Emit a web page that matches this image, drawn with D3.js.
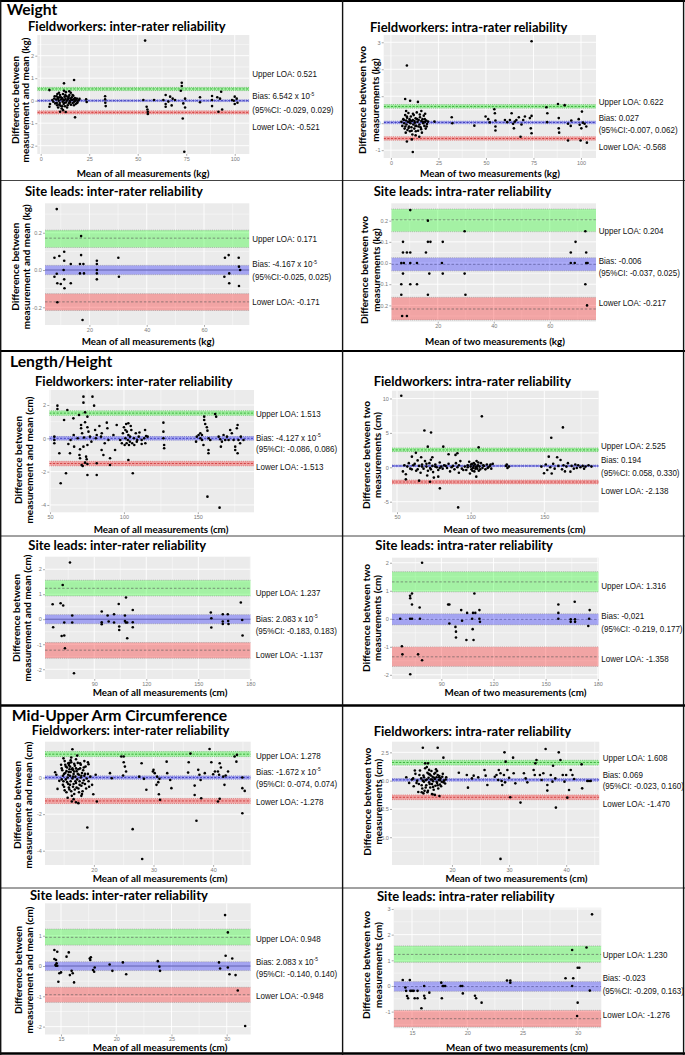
<!DOCTYPE html>
<html><head><meta charset="utf-8">
<script src="https://cdn.jsdelivr.net/npm/d3@7"></script>
<style>
html,body{margin:0;padding:0;background:#fff;}
svg{display:block;}
</style></head>
<body>
<svg id="chart" width="685" height="1055"></svg>
<script>
// ---------------- DATA ----------------
const sectionTitles = ["Weight", "Length/Height", "Mid-Upper Arm Circumference"];

const panelTitles = [
  "Fieldworkers: inter-rater reliability", "Fieldworkers: intra-rater reliability",
  "Site leads: inter-rater reliability", "Site leads: intra-rater reliability",
  "Fieldworkers: inter-rater reliability", "Fieldworkers: intra-rater reliability",
  "Site leads: inter-rater reliability", "Site leads: intra-rater reliability",
  "Fieldworkers: inter-rater reliability", "Fieldworkers: intra-rater reliability",
  "Site leads: inter-rater reliability", "Site leads: intra-rater reliability"
];

const xAxisLabels = [
  "Mean of all measurements (kg)", "Mean of two measurements (kg)",
  "Mean of all measurements (kg)", "Mean of two measurements (kg)",
  "Mean of all measurements (cm)", "Mean of two measurements (cm)",
  "Mean of all measurements (cm)", "Mean of two measurements (cm)",
  "Mean of all measurements (cm)", "Mean of two measurements (cm)",
  "Mean of all measurements (cm)", "Mean of two measurements (cm)"
];

const yAxisLabels = [
  ["Difference between", "measurement and mean (kg)"], ["Difference between two", "measurements (kg)"],
  ["Difference between", "measurement and mean (kg)"], ["Difference between two", "measurements (kg)"],
  ["Difference between", "measurement and mean (cm)"], ["Difference between two", "measurements (cm)"],
  ["Difference between", "measurement and mean (cm)"], ["Difference between two", "measurements (cm)"],
  ["Difference between", "measurement and mean (cm)"], ["Difference between two", "measurements (cm)"],
  ["Difference between", "measurement and mean (cm)"], ["Difference between two", "measurements (cm)"]
];

const xTickValues = [
  [0, 25, 50, 75, 100], [0, 25, 50, 75, 100],
  [20, 40, 60], [20, 40, 60],
  [50, 100, 150], [50, 100, 150],
  [90, 120, 150, 180], [90, 120, 150, 180],
  [20, 30, 40], [20, 30, 40],
  [15, 20, 25, 30], [15, 20, 25, 30]
];
const yTickValues = [
  [-2, -1, 0, 1, 2], [-1, 0, 1, 2, 3],
  [-0.2, 0, 0.2], [-0.2, -0.1, 0, 0.1, 0.2],
  [-4, -2, 0, 2], [-5, 0, 5, 10],
  [-2, -1, 0, 1, 2], [-2, -1, 0, 1, 2],
  [-4, -2, 0], [-5, -2.5, 0, 2.5],
  [-2, -1, 0, 1], [-1, 0, 1, 2, 3]
];
const yTickLabels = [
  ["-2", "-1", "0", "1", "2"], ["-1", "0", "1", "2", "3"],
  ["-0.2", "0.0", "0.2"], ["-0.2", "-0.1", "0.0", "0.1", "0.2"],
  ["-4", "-2", "0", "2"], ["-5", "0", "5", "10"],
  ["-2", "-1", "0", "1", "2"], ["-2", "-1", "0", "1", "2"],
  ["-4", "-2", "0"], ["-5.0", "-2.5", "0.0", "2.5"],
  ["-2", "-1", "0", "1"], ["-1", "0", "1", "2", "3"]
];

const upperLOA = [0.521, 0.622, 0.171, 0.204, 1.513, 2.525, 1.237, 1.316, 1.278, 1.608, 0.948, 1.230];
const biasValues = [0.00006542, 0.027, -0.00004167, -0.006, -0.00004127, 0.194, 0.00002083, -0.021, -0.00001672, 0.069, 0.00002083, -0.023];
const lowerLOA = [-0.521, -0.568, -0.171, -0.217, -1.513, -2.138, -1.237, -1.358, -1.278, -1.470, -0.948, -1.276];

const upperCI = [[0.45, 0.59], [0.56, 0.69], [0.121, 0.214], [0.148, 0.255], [1.38, 1.65], [2.28, 2.80],
                 [0.93, 1.56], [0.96, 1.68], [1.15, 1.42], [1.38, 1.80], [0.69, 1.22], [0.92, 1.56]];
const biasCI = [[-0.04, 0.04], [-0.02, 0.075], [-0.025, 0.025], [-0.037, 0.025], [-0.11, 0.11], [0.058, 0.33],
                [-0.183, 0.183], [-0.219, 0.177], [-0.09, 0.09], [-0.05, 0.18], [-0.15, 0.14], [-0.209, 0.17]];
const lowerCI = [[-0.59, -0.45], [-0.63, -0.50], [-0.217, -0.127], [-0.269, -0.162], [-1.65, -1.38], [-2.42, -1.86],
                 [-1.56, -0.93], [-1.70, -1.00], [-1.42, -1.15], [-1.68, -1.26], [-1.20, -0.70], [-1.60, -0.95]];

const upperText = ["Upper LOA: 0.521", "Upper LOA: 0.622", "Upper LOA: 0.171", "Upper LOA: 0.204",
  "Upper LOA: 1.513", "Upper LOA: 2.525", "Upper LOA: 1.237", "Upper LOA: 1.316",
  "Upper LOA: 1.278", "Upper LOA: 1.608", "Upper LOA: 0.948", "Upper LOA: 1.230"];
const biasText = ["Bias: 6.542 x 10", "Bias: 0.027", "Bias: -4.167 x 10", "Bias: -0.006",
  "Bias: -4.127 x 10", "Bias: 0.194", "Bias: 2.083 x 10", "Bias: -0,021",
  "Bias: -1.672 x 10", "Bias: 0.069", "Bias: 2.083 x 10", "Bias: -0.023"];
const biasExponent = ["-5", "", "-5", "", "-5", "", "-5", "", "-5", "", "-5", ""];
const ciText = ["(95%CI: -0.029, 0.029)", "(95%CI:-0.007, 0.062)", "(95%CI:-0.025, 0.025)", "(95%CI: -0.037, 0.025)",
  "(95%CI: -0.086, 0.086)", "(95%CI: 0.058, 0.330)", "(95%CI: -0.183, 0.183)", "(95%CI: -0.219, 0.177)",
  "(95%CI: 0.-074, 0.074)", "(95%CI: -0.023, 0.160)", "(95%CI: -0.140, 0.140)", "(95%CI: -0.209, 0.163)"];
const lowerText = ["Lower LOA: -0.521", "Lower LOA: -0.568", "Lower LOA: -0.171", "Lower LOA: -0.217",
  "Lower LOA: -1.513", "Lower LOA: -2.138", "Lower LOA: -1.137", "Lower LOA: -1.358",
  "Lower LOA: -1.278", "Lower LOA: -1.470", "Lower LOA: -0.948", "Lower LOA: -1.276"];

// points: [mean, difference]
const ptsWeightFwInter = [[53.8,2.67],[17.2,0.92],[12,0.77],[72.7,0.8],[72.7,0.65],[72.2,0.44],[4.5,0.47],[12,0.44],[8.6,0.3],[17.7,-0.74],[10,-0.49],[12.9,-0.5],[4.5,-0.27],[4.8,-0.15],[23.4,0.06],[23.7,-0.06],[33.2,0.2],[33.2,0.06],[33.3,-0.09],[33.5,-0.24],[52.9,0.03],[54.6,-0.27],[55,-0.39],[55.2,-0.49],[55.2,-0.59],[58.4,0.03],[63.2,0.03],[64.4,0.25],[64.4,-0.15],[64.4,-0.27],[65.8,-0.04],[66.7,0.18],[68,0.09],[67.5,-0.21],[69.2,0.03],[73.2,-0.79],[74,-2.27],[73.5,-0.12],[74.4,-0.3],[74.4,0.09],[82.1,0.15],[82.1,-0.07],[88.3,0.21],[88.3,0.03],[88.3,-0.24],[91,0.15],[91.6,-0.49],[92.4,0.09],[93,0.4],[93.5,-0.39],[98.6,0.03],[100,0.18],[100,-0.15],[101,0.09],[101.4,-0.09],[99.5,0],
  [6,0.03],[6.5,-0.05],[7,0.1],[7.5,-0.12],[8,0.05],[8.2,0.2],[8.5,-0.2],[8.8,0.12],[9,-0.3],[9.3,0],[9.5,0.15],[9.8,-0.1],[10,0.25],[10.2,-0.22],[10.5,0.05],[10.8,-0.35],[11,0.12],[11.3,-0.05],[11.5,0.3],[11.8,-0.15],[12,0.02],[12.3,0.18],[12.5,-0.25],[12.8,0.08],[13,-0.08],[13.3,0.2],[13.6,-0.3],[14,0.05],[14.2,0.12],[14.5,-0.12],[14.8,0.25],[15,-0.02],[15.3,0.1],[15.6,-0.18],[16,0.15],[16.2,0.03],[16.5,-0.1],[16.8,0.22],[17,0.06],[17.3,-0.05],[17.6,0.12],[18,-0.15],[18.3,0.04],[18.6,0.1],[19,-0.06],[19.5,0.02],[20,0.08],[11.5,-0.42],[13,0.38],[15.5,0.35],
  [7.2,0.2],[8.3,-0.1],[9.1,0.08],[9.6,-0.18],[10.4,0.15],[11.1,-0.25],[11.7,0.05],[12.2,-0.1],[12.7,0.25],[13.4,0],[13.9,-0.2],[14.4,0.18],[15.1,-0.08],[15.8,0.05],[16.4,0.25],[17.1,-0.2],[17.8,0],[18.8,-0.1],[9.4,0.35],[14.7,0.42]];

const ptsWeightFwIntra = [[74,3.04],[8.4,2.14],[7.5,0.9],[10.1,0.83],[14.2,0.79],[8.4,-0.68],[11.5,-1.07],[11,-0.6],[14.9,-0.5],[22.9,0.06],[32,0.22],[32.3,0],[43.9,-0.09],[49.8,0.25],[51.2,0.15],[52,0.03],[54.4,0.52],[54.7,0.37],[55,0.1],[55,-0.12],[55,-0.27],[60,0.12],[61.2,0.04],[62.6,0.12],[63.5,0.37],[64.3,-0.02],[64.7,-0.19],[65.2,0.06],[66,0.12],[67.3,0.22],[68.2,-0.5],[68.7,-0.05],[69.6,0.12],[70.5,0.25],[73.1,0.19],[73.6,-0.19],[74,-0.37],[74,0.27],[81.8,0.59],[82.3,0.37],[82.2,0.04],[87.9,0.71],[88.3,0.19],[88.3,-0.19],[88.5,-0.35],[91.4,0.67],[93.2,-0.02],[93.2,-0.64],[94.9,0.1],[94.6,-0.1],[98.8,0.15],[99.3,-0.06],[99.8,-0.64],[100.2,-0.19],[100.5,0.43],[101,0.02],[102.8,-0.12],[103.1,-0.72],[101.9,-0.02],
  [5.5,0.05],[6,-0.1],[6.5,0.15],[7,0],[7.2,-0.2],[7.5,0.3],[7.8,-0.35],[8,0.1],[8.2,-0.05],[8.5,0.2],[8.7,-0.25],[9,0.05],[9.2,0.38],[9.5,-0.12],[9.8,0.15],[10,-0.3],[10.3,0],[10.5,0.25],[10.8,-0.15],[11,0.08],[11.3,-0.42],[11.5,0.12],[11.8,-0.05],[12,0.3],[12.3,-0.2],[12.6,0.02],[13,0.18],[13.3,-0.1],[13.6,0.4],[14,0.05],[14.3,-0.28],[14.6,0.12],[15,-0.05],[15.3,0.22],[15.6,-0.15],[16,0.08],[16.3,-0.35],[16.6,0.15],[17,0],[17.3,0.28],[17.6,-0.1],[18,0.05],[18.3,-0.2],[18.6,0.1],[19,-0.03],[19.5,0.06],[16,0.45],[13,-0.45],[8,0.45],[18,0.35],
  [6.8,0.12],[7.6,-0.12],[8.4,0.25],[9.3,-0.18],[10.1,0.1],[10.9,-0.28],[11.6,0.35],[12.4,0.08],[13.1,-0.3],[13.8,0.15],[14.5,-0.12],[15.2,0.32],[15.9,-0.22],[16.8,0.05],[17.8,0.15],[18.8,-0.12],[9.6,0.05],[12.9,-0.1]];

const ptsWeightSlInter = [[8.6,0.327],[7.8,0.066],[9.5,0.075],[11.2,0.098],[11.2,0.05],[7.8,-0.036],[8.6,-0.02],[8.8,-0.071],[10,-0.075],[11,0],[11.2,-0.05],[11.3,-0.098],[8.8,-0.173],[13.5,0.032],[13.5,-0.071],[17.1,0.08],[17.1,0.182],[16.7,0.032],[17.9,0.032],[16.7,-0.018],[18.1,-0.018],[17.6,-0.268],[22.6,0.05],[22.6,0.032],[22.6,0],[22.6,-0.018],[22.6,-0.05],[30.1,0.066],[30.3,-0.036],[67.1,-0.036],[67.3,0.066],[68.6,0.08],[68.8,-0.018],[68.8,-0.071],[72.1,0.066],[72.2,0.018],[72.6,0],[72.2,-0.086]];

const ptsWeightSlIntra = [[10.2,0.25],[16.5,0.2],[29.6,0.15],[7.6,0.1],[16.5,0.1],[17.4,0.1],[21.8,0.1],[7.6,0.05],[9,0.05],[10.2,0.05],[15.8,0.05],[7,0],[7.9,0],[10.2,0],[12.6,0],[21.5,0],[7.6,-0.05],[17,-0.05],[21.8,-0.05],[29.6,-0.05],[7,-0.1],[10.2,-0.1],[12.6,-0.1],[7,-0.15],[16.5,-0.15],[29.9,-0.15],[7.3,-0.25],[9,-0.25],[69.2,0.1],[67.5,0.05],[73,0.05],[72.7,0.15],[67.5,0],[68.9,0],[73,0],[73.5,0],[72.7,-0.1],[73.3,-0.2]];

const ptsLengthFwInter = [[55,1.96],[55,1.76],[61.7,1.7],[59.5,1.1],[65.8,1.2],[69.6,1.4],[52.9,0.1],[52.9,-0.1],[52.9,-0.3],[56.3,-0.9],[63.5,-0.9],[57.2,-2.7],[60.8,-2.1],[72.6,2.5],[78.7,2.5],[72.6,2.14],[79.8,1.96],[73.7,1.56],[73.7,0.96],[75.3,1.3],[71,0.8],[71,0.6],[75.3,0.66],[76,0.4],[71.7,0.3],[68.7,0],[62.4,-0.34],[63.9,-0.1],[66.3,-0.5],[70.3,-0.66],[72.6,-0.5],[75.3,-0.4],[69.9,-1],[70.3,-1.2],[71.4,-1.6],[72.1,-1.66],[74.4,-1.1],[74.8,-1.26],[75.3,-1.54],[73.7,-1.46],[75.3,-2.2],[81.6,-2.2],[81.6,-1.5],[90.6,-1.6],[80.5,0.5],[81,0],[81.6,0.2],[83.4,0.74],[84.5,0.1],[84.9,-0.7],[86.1,-1],[88.4,0.94],[88.8,0.6],[89.5,-0.1],[90.6,-1.2],[92.9,0.2],[94,-0.7],[95.1,0.8],[77,0.1],[78,-0.2],[66,0.2],[73,0.05],[85,0.3],[87,-0.3],
  [100,0.66],[101.5,0.86],[103,0.9],[104.6,0.74],[101,0.5],[102,0.4],[103,0.2],[104.1,0.1],[101,0],[102.6,-0.1],[104,-0.2],[105.6,-0.3],[101.8,-0.3],[103.4,-0.4],[100.5,-0.4],[106.8,0],[108,0.3],[109,-0.1],[97.5,-0.1],[98.6,-0.3],[99.3,0.3],[106,-2.1],[103,-1.3],[108.7,-0.2],[110,0.1],[112,-0.1],[113.7,0],[115,0.14],[112,-0.34],[114.5,-0.3],[114.3,0.5],[116,0.1],[105,0.5],[107,-0.4],[110.5,0.35],
  [126.7,0.94],[126.7,0.4],[126.7,0],[127.2,-0.4],[127.2,-0.6],[154.3,1.3],[154.3,1.1],[155,0.86],[156.1,0.66],[156.5,0.46],[150.5,0.2],[149.3,0.1],[151.7,0],[152.8,-0.1],[153.8,-0.4],[148.8,-0.2],[151.7,0.3],[152.8,0.2],[157.3,0],[158.4,-0.1],[157.2,-0.7],[157.2,-0.9],[161.7,1.46],[162.4,1.3],[164.1,0.1],[165.2,-0.06],[166.3,-0.2],[165.6,-0.5],[167.4,0.2],[168.5,-0.1],[169.7,0.1],[170.8,-0.1],[171.9,0.5],[173,0.3],[174.2,-0.1],[175.3,-0.5],[176.4,0.6],[176.9,0.8],[177.5,-0.1],[178.6,-0.3],[179.1,0.1],[180.9,-0.1],[176.9,-0.9],[175.3,-0.7],[156.5,-3.5],[164.7,-4.16]];

const ptsLengthFwIntra = [[52.9,10.4],[68.6,5.34],[73.1,5.05],[70.9,3.0],[81.4,3.0],[107.6,7.4],[105.4,2.9],[91,2.04],[89.7,1.8],[85,1.9],[60.1,1.55],[66.4,1.46],[74,1.46],[62.8,2.1],[154.7,4.3],[162.6,5.8],[72.4,-2.1],[79.1,-3.06],[65,-1.94],[56,-1.75],[78,-1.36],[91.5,-5.83],[103.8,-1.36],
  [54,-0.6],[55,0.3],[56,-1],[58,0.6],[60,-0.3],[62,0.5],[63,-0.5],[64,1],[65,0.2],[66,-0.8],[67,0.4],[68,-0.2],[69,0.9],[70,0.1],[70.5,-1.2],[71,-0.5],[72,0.6],[72.5,-0.1],[73,1.1],[74,0.2],[74.5,-0.7],[75,-1.5],[76,0.4],[77,0],[78,-0.4],[79,0.7],[80,0.1],[81,-0.2],[82,0.3],[84,-0.1],[85,0.5],[86,-0.6],[88,0.2],[89,-0.3],[90,0.6],[91,0],[92,-0.8],[93,0.9],[94,-0.2],[96,0.1],[97,-0.4],[98,0.3],[99,0.8],[99.5,-0.9],[100,0.1],[100.5,-0.3],[101,0.5],[101.5,-0.1],[102,0.2],[102.5,-0.6],[103,0.4],[103.5,0],[104,0.9],[104.5,-0.2],[105,0.3],[105.5,-0.5],[106,0.1],[107,0.6],[108,-0.1],[109,0.2],[110,-0.3],[111,0.4],[112,0],[113,0.2],[114,-0.2],[115,0.5],
  [57,0.1],[59,-0.2],[61,0.3],[64,-0.3],[67,0.1],[70,0.5],[73,-0.3],[76,0.1],[79,-0.1],[83,0.2],[87,0],[92,0.3],[95,-0.4],[98,0],[100.2,0.4],[101.2,-0.5],[102.2,0.6],[103.2,-0.2],[104.2,0.1],[105.2,0.7],[106.5,-0.3],[108.5,0.3],[111.5,-0.1],[113.5,0.4],
  [124,0.2],[125,-0.1],[126,0.1],[124.5,0.4],
  [148,0.1],[149.8,-0.87],[151,0.4],[152,-0.4],[153,1.55],[154,0],[155,-0.9],[156,0.5],[157,-0.2],[158.7,1.46],[159.5,0.2],[161,1.07],[162,-0.3],[163,0.3],[164,-0.6],[165,0.1],[166,0.6],[167.7,-0.63],[168.5,0.2],[170,-0.2],[171,0.4],[172,-0.1],[173,0.3],[174.5,0],[176,0.2],[177,-0.2],[178,0.1],[180,0.3],[182,0.1]];

const ptsLengthSlInter = [[76,2.27],[71.8,1.37],[66,0.6],[70.6,0.64],[72.1,0.55],[66.3,-0.32],[71.2,-0.67],[72.7,-0.65],[72.7,-0.13],[77.3,0.15],[77.3,-0.13],[73.1,-1.16],[78.3,-2.16],[94.3,0.31],[94.3,-0.12],[94.3,-0.2],[97.7,0.15],[98.3,-0.09],[101.4,0.2],[101.4,-0.13],[104.1,0.61],[104.4,-0.29],[104.4,-0.43],[107.7,0.15],[107.7,-0.07],[108.2,-0.13],[109,-0.13],[108.3,0.87],[109,-0.76],[112.2,0.37],[112.2,-0.12],[112.2,-0.32],[157.2,0.27],[157.5,0.04],[157.5,-0.33],[164.1,0.2],[164.1,-0.09],[164.1,-0.19],[167,0.2],[167.2,-0.07],[167.4,-0.19],[174.5,0.67],[175.3,-0.03],[175.5,-0.65]];

const ptsLengthSlIntra = [[78.9,2.0],[72,0.82],[72.1,0.73],[73.1,0.9],[73.1,0.51],[77.5,0.4],[66.3,0],[72,0],[73.1,0],[77.7,0],[67.3,-0.98],[67.6,-1.27],[76.6,-1.27],[78.9,-1.48],[72.1,-1.98],[93.9,0.51],[94.6,0.51],[94.6,-0.17],[98.1,-0.29],[98.4,-0.46],[98.4,-0.67],[101.4,0.31],[101.9,-0.07],[104.4,-0.76],[104.8,0.21],[107.7,0],[108,-0.37],[108.2,0.21],[108.5,-0.76],[109,0.9],[109.5,0.21],[111.9,0.31],[111.9,0],[112.2,-0.11],[157.3,0.51],[157.3,0.21],[157.3,0],[164.4,-0.02],[164.4,-0.11],[166.7,0.61],[166.9,-0.02],[166.9,-0.11],[174.5,-0.26],[175,0],[175.3,0.31]];

const ptsMuacFwInter = [[16.4,1.55],[15.7,0.78],[15.8,0.69],[16,0.6],[16.2,0.84],[16.5,0.42],[16.7,0.33],[17.7,0.78],[19,0.84],[19.1,0.73],[13.5,0.29],[13.7,0.15],[14.2,-0.18],[13.9,-0.62],[16.6,-1.18],[17,-1.35],[17.4,-1.4],[16.3,-1.31],[18.9,-2.73],[19.9,-0.91],[20.5,-1.31],[19.7,-0.4],[20.3,0.15],[22.7,0.24],[23,-0.04],[24.6,1.15],[25,1.15],[25,0.84],[25.2,0.6],[25.4,0.33],[24.9,0.11],[26.5,-2.82],[27.6,0.05],[28,0.78],[28.1,-4.45],[28.4,-0.07],[28.8,-0.67],[29.9,0.33],[30,0.42],[30.2,0.24],[30.5,-0.4],[30.8,-0.25],[31,-0.07],[30.6,0.05],[30.9,-0.91],[31.1,-1.22],[32.2,0.87],[32.3,0.24],[32.8,-0.13],[33,-0.58],[35.8,0.27],[35.9,0.84],[36.2,1.31],[36.9,-0.44],[36.9,-0.95],[37.2,-2.36],[37.5,0.42],[37.7,0.15],[37.9,-0.13],[38,-1.13],[38.6,0.24],[39.4,1.56],[39.7,0.84],[40,0.18],[40.3,0.33],[41.1,0.78],[40.8,0.33],[41,0.15],[41.3,0.55],[41.7,0.05],[41.9,-0.4],[40.8,-1.31],[41.1,-1.16],[42.1,0.11],[42.5,0.33],[43.6,1.15],[43.9,0.87],[44,1.24],[44.9,0],[44.9,-0.58],[45.3,-0.73],[44.9,-1.95],
  [14.5,0.7],[14.7,0.4],[14.8,0.1],[14.9,-0.2],[15,-0.5],[15.1,0.9],[15.2,0.25],[15.3,-0.1],[15.4,-0.8],[15.5,0.55],[15.6,0],[15.7,-0.35],[15.8,0.3],[15.9,-0.65],[16,0.1],[16.1,-0.2],[16.2,1.1],[16.3,0.45],[16.4,-0.05],[16.5,-0.5],[16.6,0.2],[16.7,-0.9],[16.8,0.65],[16.9,0.05],[17,-0.3],[17.1,0.35],[17.2,-0.1],[17.3,0.8],[17.4,-0.6],[17.5,0.15],[17.6,-0.2],[17.7,0.5],[17.8,0],[17.9,-0.45],[18,0.25],[18.1,-0.75],[18.2,0.4],[18.3,-0.15],[18.4,0.1],[18.5,-0.35],[18.6,0.6],[18.8,-0.05],[19,0.2],[19.2,-0.5],[19.4,0.05],[15.2,0.7],[16.1,0.95],[17.9,-1],[15.6,-1.1],[14.6,-0.1],[16.8,-0.65],[18.4,0.9],[17.2,1.2],[15.9,0.45],[17.5,-0.8],
  [14.6,0.5],[14.8,-0.4],[15,0.2],[15.1,-0.7],[15.3,0.6],[15.4,0.35],[15.5,-0.25],[15.7,0.15],[15.8,-0.55],[15.9,0.8],[16,-0.4],[16.1,0.3],[16.2,-0.75],[16.4,0.5],[16.5,0.05],[16.6,-0.35],[16.7,0.75],[16.9,-0.2],[17,0.5],[17.1,-0.55],[17.3,0.2],[17.4,0.45],[17.6,-0.4],[17.8,0.7],[17.9,0.1],[18.1,-0.3],[18.3,0.55],[18.5,0.2],[18.7,-0.6],[19.1,-0.2],[14.9,1.05],[16.3,-1.0],[17.0,1.0],[18.0,-0.9]];

const ptsMuacFwIntra = [[14.9,2.91],[17.5,2.91],[18.5,2.03],[15.3,1.53],[15.8,1.53],[14.7,-1.03],[15,-1.12],[15.7,-1.03],[16.5,-1.18],[17,-1.26],[17.8,-1.35],[21.2,0.7],[22.6,0.5],[22.8,-0.62],[23.5,0.2],[23.8,0.44],[24.6,0.29],[25.7,0.94],[25.9,0.44],[26.2,-0.38],[27.5,0.35],[27.8,0.5],[28.1,0.06],[28.2,0.94],[28.5,0.65],[28.7,-0.03],[28.8,-0.38],[29.2,2.5],[29.4,1.68],[29.1,0.5],[29.3,-0.15],[29.7,0.94],[30,0.26],[28.5,-6.91],[30.2,-1.47],[30.7,2.03],[30.8,0.65],[31.1,-0.24],[32,-1.94],[32.6,0.65],[32.9,0.2],[33.2,-0.15],[34.3,0.94],[34.5,0.5],[34.6,1.53],[34.8,1.82],[35.4,0.5],[35.7,0.06],[36,0.65],[36.4,2.79],[36.7,-0.88],[36.7,-0.38],[37.3,0.5],[37.6,-0.09],[37.7,1.32],[38.1,0.2],[38.2,-2.38],[38.7,2.5],[39,1.82],[39.4,0.5],[39.7,-0.09],[40,0.5],[40.2,-1.5],[40.5,-0.82],[40.8,0.94],[41.1,0.5],[41.4,0.15],[42.7,1.44],[42.8,-0.68],[43.7,-0.03],[44,-0.03],[44.3,-0.03],
  [12,0.3],[12.5,-0.2],[13,0.1],[13.3,-0.5],[13.6,0.6],[13.9,0],[14.2,-0.3],[14.4,0.9],[14.6,0.2],[14.8,-0.7],[15,0.45],[15.1,-0.1],[15.3,1.1],[15.4,0.05],[15.5,-0.4],[15.7,0.7],[15.8,-0.9],[15.9,0.25],[16,-0.15],[16.1,0.55],[16.2,-0.6],[16.3,0.1],[16.4,0.85],[16.5,-0.3],[16.6,0.35],[16.7,-0.05],[16.8,-0.8],[16.9,0.6],[17,0.15],[17.1,-0.45],[17.2,1],[17.3,0.3],[17.4,-0.2],[17.5,0.5],[17.6,-0.7],[17.7,0.05],[17.8,0.4],[17.9,-0.35],[18,0.2],[18.2,-0.1],[18.4,0.6],[18.6,0],[18.8,-0.25],[19,0.3],[15.6,1.2],[16.6,-1.2],[14.1,-1],[13.5,0.9],
  [13.2,0.2],[13.8,-0.2],[14.3,0.5],[14.7,-0.4],[15.1,0.3],[15.4,-0.6],[15.6,0.1],[15.9,0.6],[16.1,-0.3],[16.3,0.45],[16.5,0.1],[16.7,-0.55],[16.9,0.25],[17.1,0.7],[17.3,-0.1],[17.5,-0.4],[17.7,0.3],[17.9,0.05],[18.1,-0.5],[18.3,0.35],[18.5,-0.15],[18.9,0.1],[14.9,0],[16.0,0.95],[17.4,0.85],[15.2,-0.9]];

const ptsMuacSlInter = [[29.85,1.68],[30.1,1.11],[14.4,0.53],[14.66,0.47],[14.4,0.23],[14.55,0.2],[14.6,0.09],[14.5,0.03],[14.55,0.01],[14.66,0.01],[15.5,0.31],[15.7,0.45],[15.8,-0.3],[15.96,-0.16],[16.06,-0.24],[16.18,-0.54],[14.85,-0.24],[15,-0.21],[14.76,-0.52],[17.6,0.25],[17.7,0.29],[17.65,0.2],[17.9,-0.13],[18,-0.19],[18.05,-0.05],[19.4,0.05],[19.65,-0.16],[20.6,0.12],[20.9,-0.27],[23.76,0.16],[23.9,-0.02],[23.96,-0.16],[29.3,0.12],[29.4,-0.08],[29.9,0.34],[30.1,-0.05],[30.25,-0.27],[30.5,0.25],[30.8,-0.3],[31,-0.81],[31.67,-1.98]];

const ptsMuacSlIntra = [[31.3,2.79],[29.5,1.4],[30.8,1.5],[30,0.71],[30.15,0.71],[28.9,0.3],[29.6,0.3],[29.5,0],[31.1,-0.18],[30,-0.65],[29.95,-1.17],[14.16,0.23],[14.4,-0.06],[14.46,-0.19],[14.55,-0.39],[14.64,-0.48],[14.8,0.23],[14.85,-0.19],[15,-0.19],[15.15,-0.19],[15.24,-0.48],[15.5,-0.48],[15.5,-0.19],[15.85,-0.87],[16.1,0],[16.1,-0.38],[16.16,-0.48],[16.57,-0.26],[17.65,0.13],[17.78,0],[17.87,0],[18,0],[17.7,-0.48],[19.4,0],[19.55,0],[19.6,-0.29],[20.7,-0.38],[20.8,-0.48],[21.3,-0.65],[23.6,0.21],[23.9,0.21],[23.9,0.13]];

const panelPoints = [ptsWeightFwInter, ptsWeightFwIntra, ptsWeightSlInter, ptsWeightSlIntra,
  ptsLengthFwInter, ptsLengthFwIntra, ptsLengthSlInter, ptsLengthSlIntra,
  ptsMuacFwInter, ptsMuacFwIntra, ptsMuacSlInter, ptsMuacSlIntra];

// ---------------- LAYOUT (positions / scale domains) ----------------
const layout = [
  {plot:[37.3,35,249.3,154], xDom:[-1.75,107.5], yDom:[-2.37,2.92], title:[28,31], yl:[18.5,29,100], xl:[143,177], ann:[252.3,77.3,99.3,113.3,130], kind:"fw"},
  {plot:[383.7,35,596,158], xDom:[-3.8,107.9], yDom:[-1.29,3.27], title:[370,31.7], yl:[365.5,379,100], xl:[490,177], ann:[598.7,105,121.3,133.3,150], kind:"fw"},
  {plot:[45,203.3,249.3,325], xDom:[4.5,75.8], yDom:[-0.295,0.358], title:[25,196], yl:[18.5,30,266.7], xl:[148,345], ann:[252.3,242.3,267.3,280.3,305], kind:"sl", solidBias:true},
  {plot:[391.3,203.3,596,321.7], xDom:[3.43,76.5], yDom:[-0.277,0.282], title:[373.7,196], yl:[367.5,379.5,270], xl:[495,345], ann:[598.7,234.3,264,276,305.6], kind:"sl"},
  {plot:[49.3,390,254,512.3], xDom:[49.5,188], yDom:[-4.44,2.9], title:[35,386], yl:[22,32.5,460], xl:[161,532.8], ann:[256,417.3,441,452.3,470], kind:"fw"},
  {plot:[392,390.7,598.7,512.3], xDom:[46.6,186.9], yDom:[-6.54,11.13], title:[373.7,386], yl:[369.5,381,455], xl:[514.5,532.8], ann:[601,449.3,463.3,476,494], kind:"fw"},
  {plot:[45,556.7,250.7,679], xDom:[61.6,180.2], yDom:[-2.39,2.5], title:[28.3,550], yl:[20,30.5,618], xl:[160,696.2], ann:[255.7,595.6,621.6,634,658.3], kind:"sl", solidBias:true},
  {plot:[392,557.7,598.7,679], xDom:[61.6,180.5], yDom:[-2.15,2.18], title:[375.3,550], yl:[369.5,381,618], xl:[515.5,696.2], ann:[601.3,589.3,619.3,631.6,661.6], kind:"sl"},
  {plot:[45,741.7,250.7,865], xDom:[11.8,46.3], yDom:[-4.78,1.96], title:[31.7,735], yl:[20.7,32,805], xl:[160,882.2], ann:[256,759.3,775,786.6,805], kind:"fw"},
  {plot:[392,741.7,599.3,865], xDom:[9.5,45.8], yDom:[-7.45,3.44], title:[373.7,736], yl:[370.5,381.5,801.7], xl:[516.5,882.2], ann:[602.7,761,777.6,789,806.6], kind:"fw"},
  {plot:[45,903.3,250.7,1034.5], xDom:[13.55,32.17], yDom:[-2.26,2.07], title:[30,900], yl:[22,33,970], xl:[160,1050.8], ann:[256,941.6,965,976.6,999], kind:"sl", solidBias:true},
  {plot:[393.7,907.7,601.3,1028.3], xDom:[13.34,32.14], yDom:[-1.65,3.05], title:[377,901], yl:[370,381.5,965], xl:[517,1050.8], ann:[602.7,957.6,980.6,994,1018.3], kind:"sl"}
];
const sectionTitlePos = [[6.7,15],[10,366.7],[11.7,721]];

// ---------------- DRAW ----------------
const svg = d3.select("#chart");
const TITLE_FONT = "Lato, 'Open Sans', sans-serif";
const ANN_FONT = "'Liberation Sans', Arial, sans-serif";
const bandFill = ["rgba(0,255,0,0.3)", "rgba(0,0,255,0.3)", "rgba(255,0,0,0.3)"];
const fwLine = ["#2fa52f", "#3434b4", "#cc3a3a"];

svg.append("rect").attr("width",685).attr("height",1055).attr("fill","#fff");
const defs = svg.append("defs");

panelTitles.forEach((title, i) => {
  const L = layout[i];
  const [pl, pt, pr, pb] = L.plot;
  const x = d3.scaleLinear().domain(L.xDom).range([pl, pr]);
  const y = d3.scaleLinear().domain(L.yDom).range([pb, pt]);
  const g = svg.append("g");

  defs.append("clipPath").attr("id", "clip" + i)
    .append("rect").attr("x", pl).attr("y", pt).attr("width", pr - pl).attr("height", pb - pt);

  g.append("rect").attr("x", pl).attr("y", pt).attr("width", pr - pl).attr("height", pb - pt).attr("fill", "#ebebeb");

  const xt = xTickValues[i], yt = yTickValues[i];
  const xs = xt[1] - xt[0], ys = yt[1] - yt[0];
  const xMinor = d3.range(-8, xt.length + 8).map(k => xt[0] + (k - 0.5) * xs).filter(v => v > L.xDom[0] && v < L.xDom[1]);
  const yMinor = d3.range(-8, yt.length + 8).map(k => yt[0] + (k - 0.5) * ys).filter(v => v > L.yDom[0] && v < L.yDom[1]);
  const grid = g.append("g").attr("clip-path", `url(#clip${i})`);
  grid.selectAll(".xmin").data(xMinor).join("line").attr("x1", d => x(d)).attr("x2", d => x(d)).attr("y1", pt).attr("y2", pb).attr("stroke", "#fff").attr("stroke-width", 0.45);
  grid.selectAll(".ymin").data(yMinor).join("line").attr("y1", d => y(d)).attr("y2", d => y(d)).attr("x1", pl).attr("x2", pr).attr("stroke", "#fff").attr("stroke-width", 0.45);
  grid.selectAll(".xmaj").data(xt).join("line").attr("x1", d => x(d)).attr("x2", d => x(d)).attr("y1", pt).attr("y2", pb).attr("stroke", "#fff").attr("stroke-width", 0.9);
  grid.selectAll(".ymaj").data(yt).join("line").attr("y1", d => y(d)).attr("y2", d => y(d)).attr("x1", pl).attr("x2", pr).attr("stroke", "#fff").attr("stroke-width", 0.9);

  // bands
  const bands = [upperCI[i], biasCI[i], lowerCI[i]];
  const centers = [upperLOA[i], biasValues[i], lowerLOA[i]];
  const bg = g.append("g").attr("clip-path", `url(#clip${i})`);
  bands.forEach((b, j) => {
    bg.append("rect").attr("x", pl).attr("width", pr - pl)
      .attr("y", y(b[1])).attr("height", y(b[0]) - y(b[1])).attr("fill", bandFill[j]);
    b.forEach(v => {
      bg.append("line").attr("x1", pl).attr("x2", pr).attr("y1", y(v)).attr("y2", y(v))
        .attr("stroke", L.kind === "fw" ? fwLine[j] : "#8a8a8a").attr("stroke-width", 0.6)
        .attr("stroke-dasharray", "0.8,1.1");
    });
    const cl = bg.append("line").attr("x1", pl).attr("x2", pr).attr("y1", y(centers[j])).attr("y2", y(centers[j]));
    if (L.kind === "fw") {
      cl.attr("stroke", fwLine[j]).attr("stroke-width", 0.9).attr("stroke-dasharray", "2.2,1.4");
    } else if (j === 1 && L.solidBias) {
      cl.attr("stroke", "#4a4a9a").attr("stroke-width", 0.8);
    } else {
      cl.attr("stroke", j === 1 ? "#4a4a8a" : "#555").attr("stroke-width", 0.6).attr("stroke-dasharray", "2.5,1.8");
    }
  });

  // points
  g.append("g").attr("clip-path", `url(#clip${i})`)
    .selectAll("circle").data(panelPoints[i]).join("circle")
    .attr("cx", d => x(d[0])).attr("cy", d => y(d[1])).attr("r", 1.3).attr("fill", "#000");

  // axes
  const ax = g.append("g").attr("transform", `translate(0,${pb})`)
    .call(d3.axisBottom(x).tickValues(xt).tickSize(1.8).tickPadding(0.8).tickFormat(d3.format("d")));
  const ay = g.append("g").attr("transform", `translate(${pl},0)`)
    .call(d3.axisLeft(y).tickValues(yt).tickSize(2).tickPadding(1.2).tickFormat((d, j) => yTickLabels[i][j]));
  [ax, ay].forEach(a => {
    a.select(".domain").remove();
    a.selectAll(".tick line").attr("stroke", "#555").attr("stroke-width", 0.5);
    a.selectAll(".tick text").attr("font-family", ANN_FONT).attr("font-size", "5.5px").attr("fill", "#7a7a7a");
  });

  // title
  g.append("text").attr("x", L.title[0]).attr("y", L.title[1]).attr("font-family", TITLE_FONT)
    .attr("font-weight", 700).attr("font-size", "13px").attr("fill", "#000").text(title);

  // y label
  yAxisLabels[i].forEach((t, j) => {
    g.append("text").attr("transform", `translate(${L.yl[j]},${L.yl[2]}) rotate(-90)`)
      .attr("text-anchor", "middle").attr("font-family", TITLE_FONT).attr("font-weight", 700)
      .attr("font-size", "10px").attr("fill", "#000").text(t);
  });

  // x label
  g.append("text").attr("x", L.xl[0]).attr("y", L.xl[1]).attr("text-anchor", "middle")
    .attr("font-family", TITLE_FONT).attr("font-weight", 700).attr("font-size", "9.8px").attr("fill", "#000")
    .text(xAxisLabels[i]);

  // annotations
  const annTexts = [upperText[i], biasText[i], ciText[i], lowerText[i]];
  annTexts.forEach((t, j) => {
    const tg = g.append("g").attr("transform", `translate(${L.ann[0]},${L.ann[j + 1]}) scale(0.82,1)`);
    const te = tg.append("text").attr("font-family", ANN_FONT).attr("font-size", "9.8px").attr("fill", "#111").text(t);
    if (j === 1 && biasExponent[i]) {
      te.append("tspan").attr("dy", -3.6).attr("font-size", "6px").text(biasExponent[i]);
    }
  });
});

// section titles
sectionTitles.forEach((t, i) => {
  svg.append("text").attr("x", sectionTitlePos[i][0]).attr("y", sectionTitlePos[i][1])
    .attr("font-family", TITLE_FONT).attr("font-weight", 700).attr("font-size", "15.7px").attr("fill", "#000").text(t);
});

// frame and separators
const sep = svg.append("g");
[[180.5, 1, "#444"], [536, 1, "#444"], [888, 1, "#444"]].forEach(s =>
  sep.append("line").attr("x1", 0).attr("x2", 685).attr("y1", s[0]).attr("y2", s[0]).attr("stroke", s[2]).attr("stroke-width", s[1]));
[[1, 2], [351, 2.2], [705.5, 2.5], [1053.5, 2.5]].forEach(s =>
  sep.append("line").attr("x1", 0).attr("x2", 685).attr("y1", s[0]).attr("y2", s[0]).attr("stroke", "#000").attr("stroke-width", s[1]));
sep.append("line").attr("x1", 342.6).attr("x2", 342.6).attr("y1", 0).attr("y2", 1055).attr("stroke", "#111").attr("stroke-width", 1.4);
sep.append("line").attr("x1", 0.7).attr("x2", 0.7).attr("y1", 0).attr("y2", 1055).attr("stroke", "#111").attr("stroke-width", 1.4);
sep.append("line").attr("x1", 683.6).attr("x2", 683.6).attr("y1", 0).attr("y2", 1055).attr("stroke", "#111").attr("stroke-width", 1.4);
</script>
</body></html>
